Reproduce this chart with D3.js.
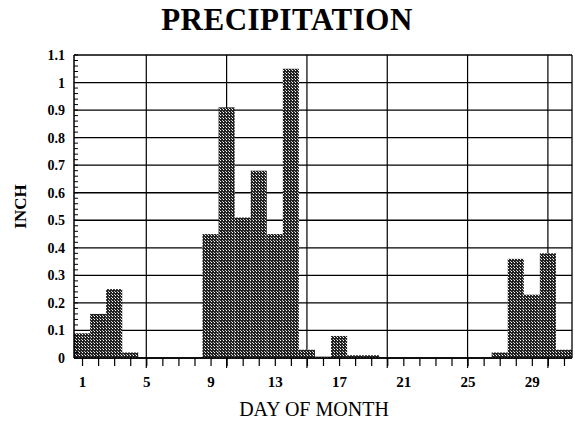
<!DOCTYPE html>
<html><head><meta charset="utf-8">
<script src="https://cdn.jsdelivr.net/npm/d3@7"></script>
<style>body{margin:0;background:#fff}svg{display:block}</style>
</head><body>
<script>
const title = "PRECIPITATION";
const xTitle = "DAY OF MONTH";
const yTitle = "INCH";
const days = [1,2,3,4,5,6,7,8,9,10,11,12,13,14,15,16,17,18,19,20,21,22,23,24,25,26,27,28,29,30,31];
const precip = [0.09,0.16,0.25,0.02,0,0,0,0,0.45,0.91,0.51,0.68,0.45,1.05,0.03,0.005,0.08,0.01,0.01,0,0,0,0,0,0,0,0.02,0.36,0.23,0.38,0.03];
const xTickLabels = [1,5,9,13,17,21,25,29];
const xGridDays = [5,10,15,20,25,30];
const yTicks = [0,0.1,0.2,0.3,0.4,0.5,0.6,0.7,0.8,0.9,1,1.1];
const yTickLabels = ["0","0.1","0.2","0.3","0.4","0.5","0.6","0.7","0.8","0.9","1","1.1"];

const W = 575, H = 424;
const m = {left:74, right:3, top:55, bottom:66};
const svg = d3.select("body").append("svg").attr("width", W).attr("height", H);
const defs = svg.append("defs");
const pat = defs.append("pattern").attr("id","stip").attr("patternUnits","userSpaceOnUse").attr("width",3).attr("height",3);
pat.append("rect").attr("width",3).attr("height",3).attr("fill","#222");
pat.append("rect").attr("x",1).attr("y",1).attr("width",1).attr("height",1).attr("fill","#fff");
pat.append("rect").attr("x",0).attr("y",0).attr("width",1).attr("height",1).attr("fill","#bbb");

const x = d3.scaleLinear().domain([0.5, 31.5]).range([m.left, W - m.right]);
const y = d3.scaleLinear().domain([0, 1.1]).range([H - m.bottom, m.top]);
const serif = "'Liberation Serif','Times New Roman',serif";

// horizontal gridlines
svg.append("g").selectAll("line").data(yTicks).join("line")
  .attr("x1", x(0.5)).attr("x2", x(31.5))
  .attr("y1", d => y(d)).attr("y2", d => y(d))
  .attr("stroke","#000").attr("stroke-width",1.3);
// vertical gridlines
svg.append("g").selectAll("line").data(xGridDays).join("line")
  .attr("x1", d => x(d)).attr("x2", d => x(d))
  .attr("y1", y(1.1)).attr("y2", y(0) + 10)
  .attr("stroke","#000").attr("stroke-width",1.2);

// bars
svg.append("g").selectAll("rect").data(days).join("rect")
  .attr("x", (d) => x(d - 0.5))
  .attr("width", d => x(d + 0.5) - x(d - 0.5))
  .attr("y", (d,i) => y(precip[i]))
  .attr("height", (d,i) => y(0) - y(precip[i]))
  .attr("fill","url(#stip)");

// frame
svg.append("line").attr("x1", x(0.5)).attr("x2", x(0.5)).attr("y1", y(1.1)).attr("y2", y(0)).attr("stroke","#000").attr("stroke-width",1.5);
svg.append("line").attr("x1", x(31.5)).attr("x2", x(31.5)).attr("y1", y(1.1)).attr("y2", y(0)).attr("stroke","#000").attr("stroke-width",1.3);
svg.append("line").attr("x1", x(0.5)).attr("x2", x(31.5)).attr("y1", y(0)).attr("y2", y(0)).attr("stroke","#000").attr("stroke-width",1.3);

// minor y ticks (inside)
const minor = d3.range(0, 56).map(i => i * 0.02).filter(v => v <= 1.1);
svg.append("g").selectAll("line").data(minor).join("line")
  .attr("x1", x(0.5)).attr("x2", x(0.5) + 4)
  .attr("y1", d => y(d)).attr("y2", d => y(d))
  .attr("stroke","#000").attr("stroke-width",1);

// y axis labels
const yAxis = d3.axisLeft(y).tickValues(yTicks).tickSize(0).tickPadding(9)
  .tickFormat((d,i) => yTickLabels[i]);
const ya = svg.append("g").attr("transform", `translate(${m.left},0)`).call(yAxis);
ya.select(".domain").remove();
ya.selectAll("text").attr("font-family", serif).attr("font-weight","bold").attr("font-size",14).attr("fill","#000");

// x axis: ticks every day
const xAxis = d3.axisBottom(x).tickValues(days).tickSize(8).tickPadding(10)
  .tickFormat(d => xTickLabels.includes(d) ? String(d) : "");
const xa = svg.append("g").attr("transform", `translate(0,${y(0)})`).call(xAxis);
xa.select(".domain").remove();
xa.selectAll("line").attr("stroke","#000").attr("stroke-width",1.2);
xa.selectAll("text").attr("font-family", serif).attr("font-weight","bold").attr("font-size",15).attr("fill","#000");

// titles
svg.append("text").attr("x", 287).attr("y", 30).attr("text-anchor","middle")
  .attr("font-family", serif).attr("font-weight","bold").attr("font-size",31).attr("letter-spacing",0.5)
  .text(title);
svg.append("text").attr("x", 314).attr("y", 416).attr("text-anchor","middle")
  .attr("font-family", serif).attr("font-size",20).text(xTitle);
svg.append("text").attr("transform", `translate(26,${y(0.55)}) rotate(-90)`).attr("text-anchor","middle")
  .attr("font-family", serif).attr("font-weight","bold").attr("font-size",17).text(yTitle);
</script>
</body></html>
